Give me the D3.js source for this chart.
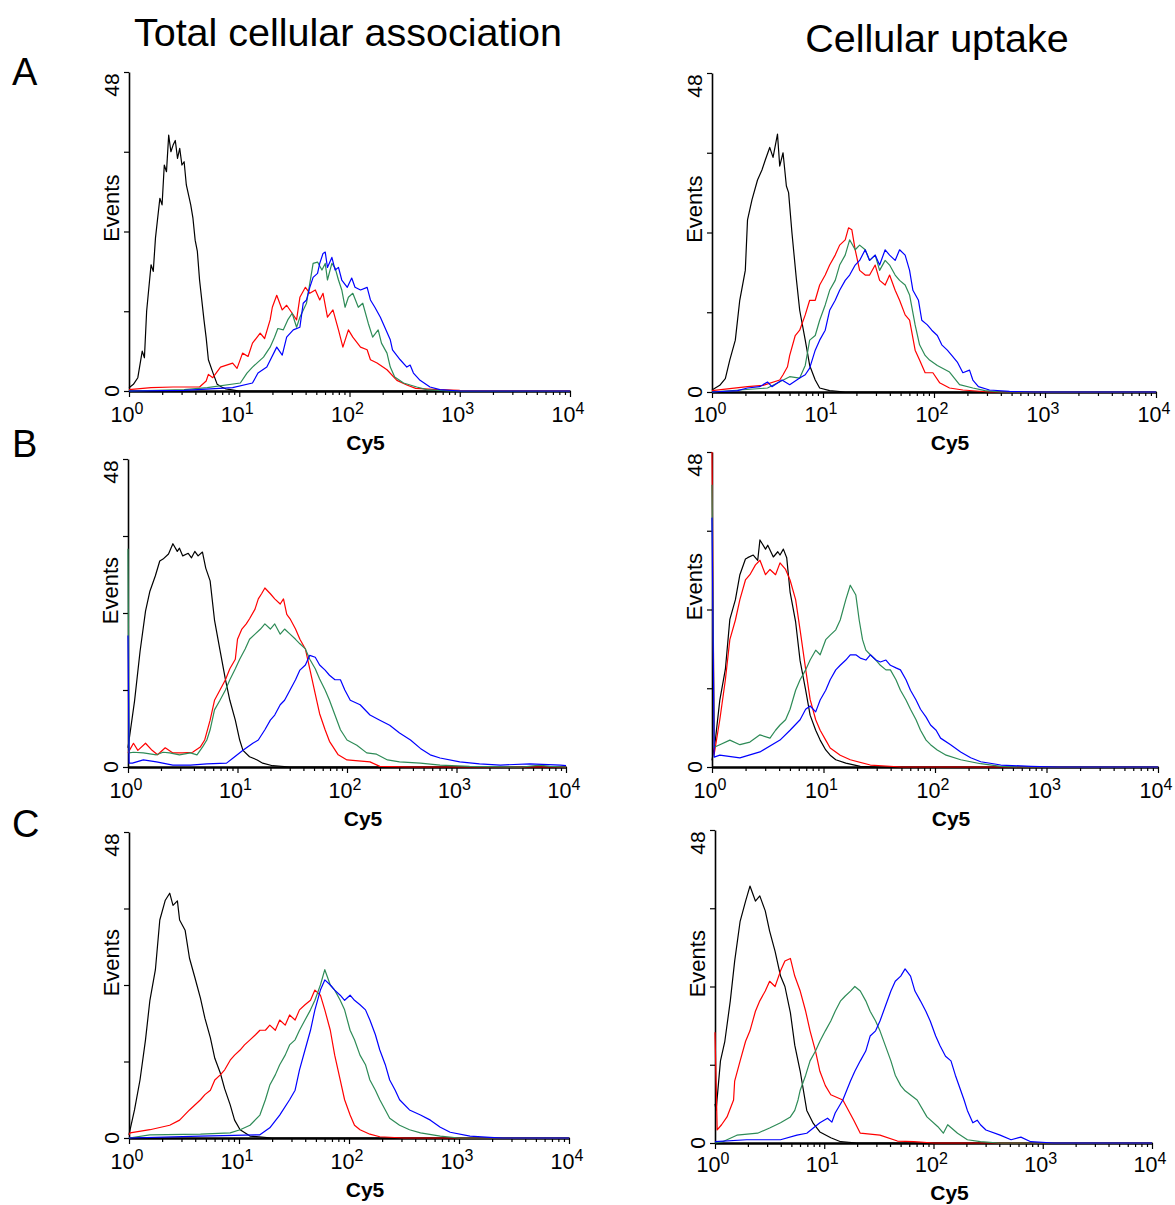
<!DOCTYPE html>
<html><head><meta charset="utf-8">
<script src="https://cdn.jsdelivr.net/npm/d3@7/dist/d3.min.js"></script>
<style>
html,body{margin:0;padding:0;background:#fff;}
text{font-family:"Liberation Sans",Arial,sans-serif;}
</style></head>
<body><svg id="chart" width="1175" height="1205"></svg>
<script>
// ---------------- DATA: [log10(Cy5), events] ----------------
const columnTitles = ["Total cellular association", "Cellular uptake"];
const rowLetters = ["A", "B", "C"];
const majorTicks = [1, 10, 100, 1000, 10000];
const tickExponents = ["0", "1", "2", "3", "4"];
const yTicks = [0, 12, 24, 36, 48];
const yTickLabels = ["0", "48"];
const xLabel = "Cy5";
const yLabel = "Events";
const seriesColors = ["#000000", "#ff0000", "#2e8b57", "#0000ff"];

// Row A, total association
const aTotalBlack = [[0,0.5],[0.04,1],[0.08,2],[0.12,6],[0.14,5],[0.16,12],[0.2,19],[0.22,18],[0.24,23],[0.28,29],[0.3,28],[0.32,34],[0.34,33],[0.36,38.5],[0.38,36],[0.4,37],[0.42,37.7],[0.44,35],[0.46,36.5],[0.48,34],[0.5,34.5],[0.52,31],[0.56,28],[0.58,26],[0.6,22.7],[0.62,21],[0.64,16.7],[0.68,10.7],[0.7,8],[0.72,4.7],[0.76,2.8],[0.8,1],[0.84,0.6],[0.88,0.3],[0.92,0.2],[1.0,0]];
const aTotalRed = [[0,0.2],[0.2,0.5],[0.4,0.6],[0.64,0.6],[0.7,1.5],[0.72,2.5],[0.76,2],[0.83,3.6],[0.94,4.2],[0.98,3.4],[1.03,5.7],[1.08,5.2],[1.12,7.2],[1.19,8.7],[1.23,7.9],[1.28,10.7],[1.3,12.6],[1.34,14.4],[1.39,12.2],[1.43,12.9],[1.48,11.7],[1.52,10.7],[1.55,14.1],[1.6,15.6],[1.64,14.7],[1.69,15.2],[1.73,13.7],[1.76,14.7],[1.8,11.1],[1.85,12.2],[1.9,9.2],[1.94,6.6],[1.99,9.2],[2.03,8.1],[2.1,6.6],[2.16,6.2],[2.19,4.7],[2.25,4.2],[2.34,3.2],[2.43,1.6],[2.52,0.9],[2.6,0.4],[2.8,0.2],[3.0,0.1],[4.0,0.05]];
const aTotalGreen = [[0,0],[0.5,0.2],[0.71,0.5],[1.01,1.2],[1.07,2.7],[1.12,3.6],[1.22,5.1],[1.28,6.6],[1.32,8.1],[1.35,9.4],[1.4,9.2],[1.44,10.7],[1.48,11.7],[1.52,9.6],[1.55,11.1],[1.61,13.2],[1.64,16.2],[1.67,19.2],[1.71,19.4],[1.75,18.2],[1.78,19.2],[1.8,16.7],[1.84,19.2],[1.87,18.5],[1.9,16.7],[1.93,15.2],[1.96,12.6],[1.99,14.1],[2.03,14.7],[2.08,12.6],[2.12,13.2],[2.17,10.2],[2.21,8.1],[2.26,9.2],[2.29,7.2],[2.34,5.7],[2.37,3.6],[2.41,2.1],[2.49,1.2],[2.61,0.6],[2.7,0.2],[2.9,0]];
const aTotalBlue = [[0,0],[0.5,0.1],[0.94,0.5],[1.12,1.2],[1.17,2.7],[1.25,3.6],[1.34,6.6],[1.39,5.4],[1.43,8.1],[1.49,9.2],[1.55,9.6],[1.58,13.2],[1.61,13.7],[1.64,15.6],[1.67,17.1],[1.71,17.7],[1.73,19.2],[1.76,20.7],[1.78,20.9],[1.8,18.6],[1.84,20.1],[1.87,18.2],[1.9,18.6],[1.93,16.7],[1.98,15.6],[2.02,17],[2.05,15.6],[2.1,15.2],[2.16,15.6],[2.19,13.7],[2.23,12.6],[2.28,11.1],[2.32,9.6],[2.37,7.7],[2.39,6.2],[2.46,4.7],[2.52,3.6],[2.55,3.9],[2.58,2.7],[2.64,1.6],[2.73,0.6],[2.82,0.2],[3.0,0]];

// Row A, uptake
const aUptakeBlack = [[0,0.3],[0.07,1],[0.12,2],[0.16,4.8],[0.21,7.8],[0.25,13.8],[0.3,18.3],[0.32,25.9],[0.36,28.9],[0.41,31.9],[0.45,33.4],[0.48,34.9],[0.52,36.8],[0.55,35.3],[0.59,38.8],[0.61,34],[0.64,36],[0.67,31],[0.69,30],[0.72,24],[0.76,17],[0.79,12.3],[0.84,7.8],[0.88,4],[0.93,1.8],[0.97,0.6],[1.06,0.2],[1.2,0]];
const aUptakeRed = [[0,0.2],[0.32,0.8],[0.46,1],[0.61,1.8],[0.64,2.6],[0.68,3.8],[0.7,5.5],[0.75,8.5],[0.79,9.3],[0.84,11.6],[0.88,13.8],[0.93,13.8],[0.97,16.1],[1.02,17.6],[1.06,19.1],[1.11,20.6],[1.15,22.1],[1.2,22.9],[1.23,24.7],[1.26,24.4],[1.29,21.4],[1.33,18.3],[1.38,17.6],[1.42,17.6],[1.47,19.1],[1.51,16.8],[1.56,16.1],[1.6,17.6],[1.65,15.3],[1.69,13.8],[1.74,11.6],[1.78,10.8],[1.83,6.3],[1.87,4.8],[1.92,2.9],[1.99,2.9],[2.05,1.4],[2.14,0.6],[2.26,0.3],[2.5,0]];
const aUptakeGreen = [[0,0],[0.5,0.6],[0.7,2.3],[0.79,2.1],[0.84,4],[0.88,7.8],[0.93,8.5],[0.97,10.8],[1.02,13.1],[1.06,15.3],[1.11,16.8],[1.15,19.1],[1.2,20.6],[1.24,22.9],[1.29,21.4],[1.33,22.1],[1.38,21.4],[1.42,19.8],[1.47,20.6],[1.51,18.3],[1.56,19.8],[1.6,19.1],[1.65,17.6],[1.69,16.8],[1.74,16.1],[1.78,14.6],[1.83,10.1],[1.87,7.1],[1.92,5.5],[1.96,4.8],[2.03,4],[2.14,3],[2.23,1.1],[2.35,0.6],[2.46,0.2],[2.6,0]];
const aUptakeBlue = [[0,0],[0.23,0.2],[0.32,0.6],[0.43,0.8],[0.5,1.5],[0.54,0.8],[0.63,1.8],[0.7,1.1],[0.79,2.1],[0.84,2.6],[0.88,3.6],[0.93,6.3],[0.97,7.8],[1.02,9.3],[1.06,12.3],[1.11,13.8],[1.15,15.3],[1.2,16.8],[1.24,17.6],[1.29,19.1],[1.33,19.8],[1.38,21.4],[1.42,19.8],[1.47,20.6],[1.51,19.1],[1.56,21.4],[1.6,20.6],[1.65,19.8],[1.69,21.4],[1.74,20.6],[1.78,18.3],[1.81,15.3],[1.86,13.8],[1.89,10.8],[1.94,10.1],[1.98,9.3],[2.03,8.5],[2.07,7.1],[2.12,6.3],[2.16,5.5],[2.21,4.5],[2.26,2.9],[2.32,3.3],[2.35,1.8],[2.4,0.8],[2.5,0.3],[2.68,0.1],[2.9,0]];

// Row B, total association
const bTotalBlack = [[0,3],[0.06,10.3],[0.11,18],[0.16,24.3],[0.2,27.4],[0.25,29.8],[0.29,32.1],[0.32,32.4],[0.37,33.2],[0.41,34.8],[0.45,33.6],[0.47,34.1],[0.5,32.9],[0.55,33.3],[0.58,32.6],[0.61,33.6],[0.64,32.9],[0.68,33.5],[0.71,31],[0.75,29],[0.79,22.9],[0.84,18.2],[0.89,13.6],[0.93,10.4],[0.98,7.3],[1.02,4.2],[1.05,2.6],[1.11,1.6],[1.18,1.1],[1.23,0.6],[1.32,0.2],[1.48,0]];
const bTotalRed = [[0,2.2],[0.05,3.7],[0.09,2.6],[0.16,3.7],[0.22,2.6],[0.27,1.9],[0.34,3],[0.41,2.2],[0.5,2.2],[0.59,2.3],[0.66,3.1],[0.7,4.2],[0.75,7.3],[0.79,10.4],[0.84,12],[0.89,13.6],[0.93,15.3],[0.98,16.8],[1.0,19.9],[1.04,21.5],[1.08,22.3],[1.11,23.1],[1.16,24.6],[1.19,26.2],[1.22,27],[1.25,27.9],[1.3,27],[1.34,26.2],[1.39,25.4],[1.42,26.2],[1.45,23.8],[1.48,23.1],[1.53,21.5],[1.57,19.9],[1.62,18.4],[1.66,15.3],[1.71,11.4],[1.75,8.3],[1.8,5.8],[1.84,4],[1.92,1.9],[2.0,1.1],[2.21,0.8],[2.3,0.1],[2.6,0]];
const bTotalGreen = [[0,34],[0.01,2.2],[0.05,2.3],[0.14,2.2],[0.26,1.9],[0.32,2.3],[0.38,2.2],[0.47,1.9],[0.57,2.2],[0.63,1.9],[0.68,3.1],[0.72,4.2],[0.75,5.8],[0.79,8.9],[0.84,10.4],[0.89,12],[0.93,13.6],[0.98,15.3],[1.02,16.8],[1.07,18.4],[1.11,19.9],[1.16,20.7],[1.21,21.5],[1.25,22.3],[1.3,21.5],[1.34,22.3],[1.39,20.7],[1.43,21.5],[1.48,20.7],[1.53,19.9],[1.57,19.2],[1.62,18.4],[1.66,16.8],[1.71,15.3],[1.75,13.7],[1.8,12],[1.84,10.4],[1.89,8.1],[1.94,5.8],[2.0,4.2],[2.09,3.4],[2.18,2.2],[2.27,2],[2.37,1.1],[2.48,0.8],[2.67,0.6],[2.85,0.3],[3.12,0.1],[3.6,0],[3.76,0.3],[3.85,0.1],[4,0]];
const bTotalBlue = [[0,20.5],[0.01,0.6],[0.04,0.6],[0.14,1.1],[0.26,0.8],[0.41,0.3],[0.57,0.3],[0.72,0.5],[0.9,0.6],[0.96,1.4],[1.05,2.6],[1.14,3.7],[1.19,4.2],[1.25,5.8],[1.3,7.3],[1.34,8.1],[1.39,9.7],[1.43,10.4],[1.48,12],[1.53,13.6],[1.57,15.1],[1.62,15.9],[1.66,17.4],[1.71,17.1],[1.75,15.9],[1.8,15.1],[1.84,14.3],[1.89,13.6],[1.94,13.6],[1.98,12],[2.03,10.4],[2.12,9.7],[2.21,8.1],[2.3,7.3],[2.39,6.5],[2.48,5.3],[2.58,4.2],[2.67,2.9],[2.76,1.9],[2.85,1.4],[3.03,0.8],[3.21,0.5],[3.4,0.3],[3.67,0.5],[3.95,0.3],[4,0.2]];

// Row B, uptake
const bUptakeBlack = [[0,1],[0.03,4.1],[0.07,10.2],[0.12,14.9],[0.16,22.5],[0.21,25.5],[0.25,29.3],[0.3,31.7],[0.32,31.9],[0.37,32.3],[0.41,31.5],[0.43,34.6],[0.48,33.2],[0.5,33.8],[0.55,32],[0.59,32.8],[0.61,32.3],[0.64,33.2],[0.67,31.9],[0.7,26.7],[0.75,22.1],[0.79,16.2],[0.84,11.7],[0.88,7.9],[0.93,5.6],[0.97,4.1],[1.02,2.6],[1.06,1.8],[1.11,1.1],[1.2,0.6],[1.33,0.1],[1.5,0]];
const bUptakeRed = [[0,48],[0.02,2],[0.07,7.2],[0.12,13.3],[0.16,19.4],[0.21,22.4],[0.25,25.5],[0.3,28.5],[0.34,29.3],[0.39,30.8],[0.43,31.5],[0.48,29.3],[0.52,30.1],[0.57,29.3],[0.61,31.1],[0.66,30.1],[0.7,28.5],[0.75,25.5],[0.79,20.9],[0.84,14.9],[0.88,10.3],[0.93,7.2],[0.97,5.6],[1.02,4.1],[1.06,2.9],[1.15,1.8],[1.24,1.1],[1.42,0.3],[1.7,0]];
const bUptakeGreen = [[0,43],[0.02,3],[0.07,3.4],[0.16,4.1],[0.25,3.4],[0.34,3.8],[0.43,4.9],[0.52,4.4],[0.57,5.6],[0.61,6.4],[0.66,7.2],[0.7,8.8],[0.75,11.7],[0.79,13.3],[0.84,14.8],[0.88,16.3],[0.93,17.8],[0.97,17.1],[1.02,19.4],[1.06,20.1],[1.11,20.9],[1.15,22.4],[1.2,25.5],[1.24,27.7],[1.29,26.2],[1.32,22.4],[1.35,19.4],[1.38,17.8],[1.42,17.1],[1.47,16.3],[1.51,15.5],[1.56,14.8],[1.6,14.8],[1.65,13.3],[1.69,11.7],[1.74,10.2],[1.78,8.8],[1.83,7.2],[1.87,5.6],[1.92,4.1],[1.96,3.4],[2.02,2.6],[2.1,1.8],[2.23,1.1],[2.41,0.5],[2.59,0.1],[2.8,0]];
const bUptakeBlue = [[0,38],[0.02,1.5],[0.07,1.8],[0.25,1.4],[0.43,2.3],[0.61,4.1],[0.7,5.6],[0.79,7.2],[0.84,8.8],[0.88,9.3],[0.93,8.4],[0.97,10.2],[1.02,11.7],[1.06,13.3],[1.11,14.8],[1.15,15.5],[1.2,16.3],[1.24,17.1],[1.29,17.1],[1.33,16.6],[1.38,16.3],[1.42,17.1],[1.47,16.3],[1.51,16],[1.56,16.3],[1.6,15.5],[1.65,15.1],[1.69,14.8],[1.74,13.3],[1.78,11.7],[1.83,10.2],[1.87,8.8],[1.92,7.6],[1.96,6.4],[2.01,5.6],[2.05,4.4],[2.14,3.4],[2.23,2.3],[2.32,1.4],[2.41,0.8],[2.59,0.3],[2.86,0.1],[3.1,0]];

// Row C, total association
const cTotalBlack = [[0,0.5],[0.01,1.3],[0.05,4.4],[0.1,9.1],[0.15,15.4],[0.19,21.6],[0.24,26.4],[0.28,34.2],[0.33,37.3],[0.37,38.4],[0.4,36.5],[0.44,37.2],[0.46,34.2],[0.51,32.6],[0.55,28.2],[0.6,25.1],[0.65,21.9],[0.69,18.8],[0.74,15.7],[0.78,12.5],[0.83,10.2],[0.87,7.7],[0.92,5.2],[0.96,2.8],[1.01,1.3],[1.1,0.3],[1.3,0]];
const cTotalRed = [[0,0.5],[0.01,0.8],[0.19,1.3],[0.37,2],[0.46,2.8],[0.55,4.4],[0.65,6],[0.69,6.8],[0.74,7.5],[0.78,9.1],[0.83,9.9],[0.87,10.7],[0.92,12.2],[0.96,13],[1.01,13.8],[1.05,14.6],[1.1,15.4],[1.15,16.2],[1.19,16.9],[1.24,16.9],[1.28,17.7],[1.33,16.9],[1.37,18.5],[1.42,17.7],[1.46,19.3],[1.51,18.5],[1.55,20.1],[1.6,20.9],[1.65,21.6],[1.69,23.2],[1.74,22.4],[1.78,20.1],[1.83,16.9],[1.87,13],[1.92,9.1],[1.96,6],[2.01,3.6],[2.05,2],[2.1,1.3],[2.19,0.6],[2.28,0.2],[2.5,0]];
const cTotalGreen = [[0,0],[0.19,0.5],[0.65,0.6],[0.92,0.8],[1.01,1.3],[1.1,2],[1.19,3.6],[1.24,6],[1.28,8.3],[1.33,9.9],[1.37,11.5],[1.42,13],[1.46,14.6],[1.51,15.4],[1.55,16.9],[1.6,18.5],[1.65,20.1],[1.69,21.6],[1.74,24],[1.78,26.4],[1.83,24],[1.87,23.2],[1.92,21.6],[1.96,20.1],[2.01,16.9],[2.05,15.4],[2.1,13],[2.15,11.5],[2.19,9.1],[2.24,7.5],[2.28,6],[2.33,4.4],[2.37,3.1],[2.46,2],[2.55,1.3],[2.65,0.8],[2.83,0.3],[3.0,0]];
const cTotalBlue = [[0,0],[0.65,0.3],[1.19,0.5],[1.28,1.6],[1.37,3.6],[1.46,6],[1.51,7.5],[1.55,10.7],[1.6,13.8],[1.65,16.9],[1.69,20.1],[1.74,23.2],[1.78,24.8],[1.83,24],[1.87,23.2],[1.92,22.4],[1.96,21.6],[2.01,22.4],[2.05,21.6],[2.1,20.9],[2.15,20.1],[2.19,18.5],[2.24,16.2],[2.28,13.8],[2.33,11.5],[2.37,9.1],[2.42,7.5],[2.46,6],[2.55,4.4],[2.65,3.6],[2.74,2.8],[2.83,1.7],[2.92,0.9],[3.1,0.3],[3.28,0.1],[3.4,0]];

// Row C, uptake
const cUptakeBlack = [[0,6],[0.01,5],[0.05,12.6],[0.09,15.6],[0.14,21.8],[0.18,27.9],[0.23,34],[0.28,37.1],[0.32,39.4],[0.37,37.1],[0.41,37.9],[0.46,35.6],[0.5,32.5],[0.55,29.4],[0.6,25.6],[0.64,24],[0.69,20],[0.73,15],[0.78,11],[0.84,5],[0.9,3],[0.96,1.7],[1.06,0.8],[1.15,0.2],[1.3,0]];
const cUptakeRed = [[0,17],[0.02,2],[0.06,2.8],[0.11,4],[0.17,6.6],[0.18,9.5],[0.23,12.6],[0.28,15.6],[0.32,17.2],[0.37,20.2],[0.41,21.8],[0.46,23.3],[0.5,24.8],[0.55,24],[0.6,26.4],[0.64,27.9],[0.69,28.3],[0.73,25.6],[0.78,23.3],[0.83,20.2],[0.87,17.2],[0.92,14.1],[0.96,11],[1.01,8.8],[1.06,7.4],[1.17,6.6],[1.27,3.5],[1.33,1.5],[1.51,1.2],[1.67,0.3],[1.82,0.2],[2.0,0]];
const cUptakeGreen = [[0,0],[0.07,0.2],[0.2,1.2],[0.39,1.5],[0.5,2.3],[0.6,3.1],[0.69,4],[0.73,5],[0.76,6.6],[0.78,8.1],[0.83,10.4],[0.87,12.6],[0.92,14.1],[0.96,15.6],[1.01,17.2],[1.06,18.7],[1.1,20.2],[1.15,21.8],[1.19,22.5],[1.24,23.3],[1.28,24],[1.33,23.3],[1.38,21.8],[1.42,20.2],[1.47,18.7],[1.51,17.2],[1.56,14.9],[1.61,12.6],[1.65,10.4],[1.7,8.8],[1.74,8],[1.85,6.6],[1.94,4],[2.04,2.5],[2.09,1.5],[2.13,2.8],[2.22,1.5],[2.31,0.5],[2.43,0.2],[2.6,0]];
const cUptakeBlue = [[0,0.2],[0.29,0.5],[0.6,0.5],[0.75,1.2],[0.84,1.5],[0.9,2.3],[0.96,3.1],[1.03,3.8],[1.07,3.2],[1.1,4.6],[1.17,6.6],[1.24,9.5],[1.28,11],[1.33,12.6],[1.38,14.1],[1.42,16.4],[1.47,17.2],[1.51,18.7],[1.56,21],[1.61,23.3],[1.65,24.8],[1.7,25.6],[1.74,26.7],[1.79,25.6],[1.83,23.3],[1.88,21.8],[1.93,20.2],[1.97,18.7],[2.02,16.4],[2.06,14.9],[2.11,13.3],[2.16,12.6],[2.2,10.4],[2.28,6.6],[2.31,5],[2.36,3.1],[2.4,3.5],[2.43,2.8],[2.48,2],[2.61,1.2],[2.71,0.5],[2.8,0.9],[2.89,0.2],[3.1,0]];

// ---------------- LAYOUT ----------------
const panels = [
  {x0:129, x1:570, yTop:72,  yBase:391,  labelBase:391,  series:[aTotalBlack, aTotalRed, aTotalGreen, aTotalBlue]},
  {x0:712, x1:1156, yTop:73, yBase:392,  labelBase:391,  series:[aUptakeBlack, aUptakeRed, aUptakeGreen, aUptakeBlue]},
  {x0:128, x1:566, yTop:459, yBase:767,  labelBase:767,  series:[bTotalBlack, bTotalRed, bTotalGreen, bTotalBlue]},
  {x0:712, x1:1158, yTop:452, yBase:767, labelBase:767,  series:[bUptakeBlack, bUptakeRed, bUptakeGreen, bUptakeBlue]},
  {x0:129, x1:569, yTop:832, yBase:1138, labelBase:1138, series:[cTotalBlack, cTotalRed, cTotalGreen, cTotalBlue]},
  {x0:715, x1:1152, yTop:830, yBase:1143,labelBase:1141, series:[cUptakeBlack, cUptakeRed, cUptakeGreen, cUptakeBlue]}
];

const svg = d3.select("#chart");
svg.append("rect").attr("width",1175).attr("height",1205).attr("fill","#fff");

// titles & letters
const titlePos = [{x:348, y:46}, {x:937, y:52}];
columnTitles.forEach((t,i)=>{
  svg.append("text").attr("x",titlePos[i].x).attr("y",titlePos[i].y)
    .attr("text-anchor","middle").attr("font-size",39.5).text(t);
});
const letterY = [85, 457, 837];
rowLetters.forEach((l,i)=>{
  svg.append("text").attr("x",12).attr("y",letterY[i]).attr("font-size",38).text(l);
});

const minorTicks = [];
for (let d=0; d<4; d++) for (let m=2; m<10; m++) minorTicks.push(m*Math.pow(10,d));

panels.forEach(p=>{
  const g = svg.append("g");
  const x = d3.scaleLog().domain([1,1e4]).range([p.x0,p.x1]);
  const y = d3.scaleLinear().domain([0,48]).range([p.yBase,p.yTop]);

  // x axis: minor + major ticks
  const gxMinor = g.append("g").attr("transform",`translate(0,${p.yBase})`)
    .call(d3.axisBottom(x).tickValues(minorTicks).tickSize(4).tickSizeOuter(0).tickFormat(""));
  const gx = g.append("g").attr("transform",`translate(0,${p.yBase})`)
    .call(d3.axisBottom(x).tickValues(majorTicks).tickSize(6).tickSizeOuter(0).tickFormat(""));
  [gxMinor,gx].forEach(a=>{
    a.select(".domain").attr("stroke","#000").attr("stroke-width",2);
    a.selectAll(".tick line").attr("stroke","#000").attr("stroke-width",1.2);
  });
  majorTicks.forEach((v,i)=>{
    const t = g.append("text").attr("x",x(v)-2).attr("y",p.labelBase+31)
      .attr("text-anchor","middle").attr("font-size",21.5);
    t.append("tspan").text("10");
    t.append("tspan").attr("font-size",16).attr("dy",-8).text(tickExponents[i]);
  });
  g.append("text").attr("x",(p.x0+p.x1)/2+16).attr("y",p.labelBase+59)
    .attr("text-anchor","middle").attr("font-size",21).attr("font-weight","bold").text(xLabel);

  // y axis
  const gy = g.append("g").attr("transform",`translate(${p.x0},0)`)
    .call(d3.axisLeft(y).tickValues(yTicks).tickSize(5).tickSizeOuter(0).tickFormat(""));
  gy.select(".domain").attr("stroke","#000").attr("stroke-width",1.6);
  gy.selectAll(".tick line").attr("stroke","#000").attr("stroke-width",1.2);
  const lx = p.x0 - 10;
  [[0,yTickLabels[0]],[48,yTickLabels[1]]].forEach(([v,s])=>{
    g.append("text").attr("transform",`translate(${lx},${y(v) + (v===48?13:0)}) rotate(-90)`)
      .attr("text-anchor","middle").attr("font-size",21).text(s);
  });
  g.append("text").attr("transform",`translate(${lx},${y(27.5)}) rotate(-90)`)
    .attr("text-anchor","middle").attr("font-size",22).text(yLabel);

  // histogram lines
  const line = d3.line()
    .x(d=>x(Math.pow(10,d[0])))
    .y(d=>y(Math.min(48,d[1])));
  p.series.forEach((s,i)=>{
    const pts = s.slice();
    if (pts[pts.length-1][0] < 4) pts.push([4,0]);
    g.append("path").datum(pts).attr("d",line)
      .attr("fill","none").attr("stroke",seriesColors[i]).attr("stroke-width",1.2)
      .attr("stroke-linejoin","round");
  });
});
</script>
</body></html>
